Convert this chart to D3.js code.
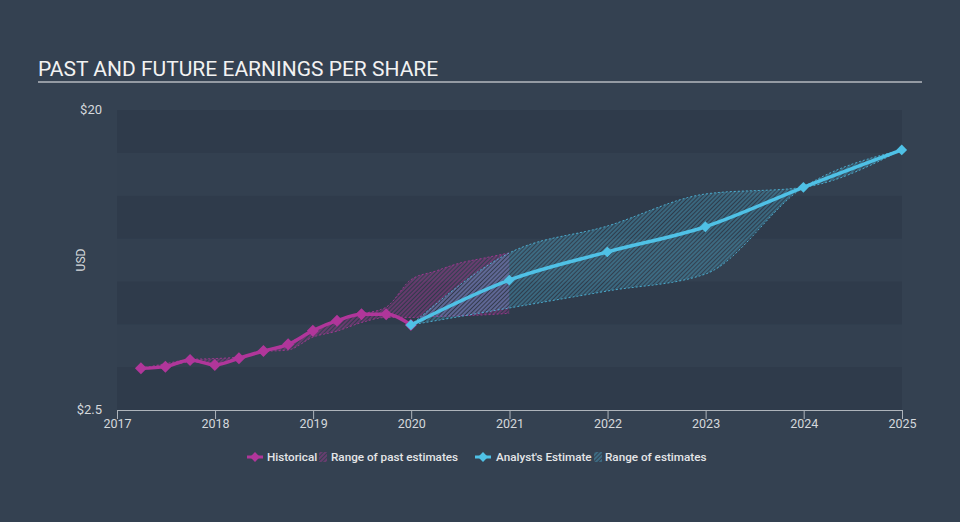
<!DOCTYPE html>
<html>
<head>
<meta charset="utf-8">
<script src="https://cdn.jsdelivr.net/npm/d3@7"></script>
<style>
  body { margin: 0; background: #344151; }
  svg { display: block; font-family: Roboto, "Noto Sans", sans-serif; }
</style>
</head>
<body>
<svg id="chart"></svg>
<script>
// historical EPS (quarterly, trailing)
const histDates = ['2017-03-31', '2017-06-30', '2017-09-30', '2017-12-31', '2018-03-31', '2018-06-30',
    '2018-09-30', '2018-12-31', '2019-03-31', '2019-06-30', '2019-09-30', '2019-12-31'];
const histEps = [4.93, 5.03, 5.42, 5.13, 5.52, 5.94, 6.33, 7.13, 7.71, 8.08, 8.08, 7.46];

// range of past estimates
const pastDates = histDates.concat(['2020-03-31', '2020-06-30', '2020-09-30', '2020-12-31']);
const pastHigh = [4.93, 5.2, 5.45, 5.5, 5.6, 5.95, 6.4, 7.13, 7.71, 8.1, 8.5, 10.1, 10.6, 11.07, 11.37, 11.66];
const pastLow = [4.93, 5.03, 5.3, 5.2, 5.5, 5.9, 6.0, 6.75, 7.1, 7.6, 7.9, 7.9, 7.95, 8.0, 8.05, 8.14];

// analyst estimates
const estDates = ['2019-12-31', '2020-12-31', '2021-12-31', '2022-12-31', '2023-12-31', '2024-12-31'];
const estEps = [7.46, 10.08, 11.72, 13.19, 15.49, 17.67];
const estHigh = [7.46, 11.66, 13.23, 15.1, 15.49, 17.67];
const estLow = [7.46, 8.45, 9.44, 10.43, 15.49, 17.67];

const yBands = [2.5, 5, 7.5, 10, 12.5, 15, 17.5, 20];
const yLabels = [20, 2.5];
const xTickYears = [2017, 2018, 2019, 2020, 2021, 2022, 2023, 2024, 2025];

const width = 960, height = 522;
const magenta = '#b0369a', cyan = '#4fc1e6';

const parse = d3.timeParse('%Y-%m-%d');

const svg = d3.select('#chart')
    .attr('width', width)
    .attr('height', height);

const x = d3.scaleTime()
    .domain([new Date(2017, 0, 1), new Date(2025, 0, 1)])
    .range([117, 902]);
const y = d3.scaleLinear()
    .domain([2.5, 20])
    .range([410, 110]);

// hatch patterns
const defs = svg.append('defs');
function hatch(id, color, op) {
    const p = defs.append('pattern')
        .attr('id', id)
        .attr('patternUnits', 'userSpaceOnUse')
        .attr('width', 3)
        .attr('height', 3)
        .attr('patternTransform', 'rotate(45)');
    p.append('line')
        .attr('x1', 1).attr('y1', 0)
        .attr('x2', 1).attr('y2', 3)
        .attr('stroke', color)
        .attr('stroke-width', 1.1)
        .attr('opacity', op);
}
hatch('hatchPast', magenta, 0.75);
hatch('hatchEst', cyan, 0.6);

// title
svg.append('text')
    .attr('x', 38)
    .attr('y', 76)
    .attr('fill', '#f2f2f2')
    .style('font-size', '21px')
    .text('PAST AND FUTURE EARNINGS PER SHARE');
svg.append('line')
    .attr('x1', 38).attr('x2', 922)
    .attr('y1', 82).attr('y2', 82)
    .attr('stroke', '#b4b9bf')
    .attr('stroke-width', 1.5);

// background bands
const bandPairs = d3.pairs(yBands);
svg.append('g')
    .selectAll('rect')
    .data(bandPairs)
    .join('rect')
    .attr('x', x.range()[0])
    .attr('width', x.range()[1] - x.range()[0])
    .attr('y', d => y(d[1]))
    .attr('height', d => y(d[0]) - y(d[1]))
    .attr('fill', (d, i) => i % 2 === 0 ? '#2f3b4b' : '#334050');

// y labels
svg.append('g')
    .selectAll('text')
    .data(yLabels)
    .join('text')
    .attr('x', 102)
    .attr('y', d => y(d) + 4)
    .attr('text-anchor', 'end')
    .attr('fill', '#d4d8dc')
    .style('font-size', '13px')
    .text(d => '$' + d);

svg.append('text')
    .attr('transform', 'translate(85,260) rotate(-90)')
    .attr('text-anchor', 'middle')
    .attr('fill', '#d4d8dc')
    .style('font-size', '12px')
    .text('USD');

// x axis
const xAxis = d3.axisBottom(x)
    .tickValues(xTickYears.map(yr => new Date(yr, 0, 1)))
    .tickFormat(d3.timeFormat('%Y'))
    .tickSize(9)
    .tickSizeOuter(0);
const gx = svg.append('g')
    .attr('transform', 'translate(0,410)')
    .call(xAxis);
gx.select('.domain').attr('stroke', '#aeb4bb');
gx.selectAll('.tick line').attr('stroke', '#aeb4bb');
gx.selectAll('.tick text')
    .attr('fill', '#d4d8dc')
    .attr('dy', '0.5em')
    .style('font-size', '12.5px')
    .style('font-family', 'Roboto, sans-serif');

// ranges
const area = d3.area()
    .x(d => x(d.date))
    .y0(d => y(d.low))
    .y1(d => y(d.high))
    .curve(d3.curveMonotoneX);
const edge = d3.line()
    .x(d => x(d.date))
    .y(d => y(d.v))
    .curve(d3.curveMonotoneX);

function drawRange(dates, lows, highs, pat, color) {
    const rows = dates.map((d, i) => ({ date: parse(d), low: lows[i], high: highs[i] }));
    const g = svg.append('g');
    g.append('path')
        .datum(rows)
        .attr('d', area)
        .attr('fill', `url(#${pat})`);
    ['low', 'high'].forEach(k => {
        g.append('path')
            .datum(rows.map(r => ({ date: r.date, v: r[k] })))
            .attr('d', edge)
            .attr('fill', 'none')
            .attr('stroke', color)
            .attr('stroke-width', 1)
            .attr('stroke-dasharray', '2,2')
            .attr('opacity', 0.8);
    });
}
drawRange(pastDates, pastLow, pastHigh, 'hatchPast', magenta);
drawRange(estDates, estLow, estHigh, 'hatchEst', cyan);

// lines
const diamond = d3.symbol().type(d3.symbolSquare);
function drawSeries(dates, vals, color, size) {
    const rows = dates.map((d, i) => ({ date: parse(d), v: vals[i] }));
    const g = svg.append('g');
    g.append('path')
        .datum(rows)
        .attr('d', edge)
        .attr('fill', 'none')
        .attr('stroke', color)
        .attr('stroke-width', 3.5);
    g.selectAll('path.pt')
        .data(rows)
        .join('path')
        .attr('class', 'pt')
        .attr('transform', d => `translate(${x(d.date)},${y(d.v)}) rotate(45)`)
        .attr('d', diamond.size(size))
        .attr('fill', color);
}
drawSeries(histDates, histEps, magenta, 72);
drawSeries(estDates, estEps, cyan, 58);

// legend
const legend = svg.append('g').style('font-size', '11.7px');
const legendItems = [
    { type: 'line', x: 247, color: magenta },
    { type: 'text', x: 267, label: 'Historical' },
    { type: 'hatch', x: 319, pat: 'hatchPast' },
    { type: 'text', x: 331, label: 'Range of past estimates' },
    { type: 'line', x: 475, color: cyan },
    { type: 'text', x: 496, label: "Analyst's Estimate" },
    { type: 'hatch', x: 594, pat: 'hatchEst' },
    { type: 'text', x: 605, label: 'Range of estimates' }
];
legendItems.forEach(it => {
    if (it.type === 'line') {
        legend.append('line')
            .attr('x1', it.x).attr('x2', it.x + 16)
            .attr('y1', 457).attr('y2', 457)
            .attr('stroke', it.color)
            .attr('stroke-width', 3);
        legend.append('path')
            .attr('transform', `translate(${it.x + 8},457) rotate(45)`)
            .attr('d', diamond.size(48))
            .attr('fill', it.color);
    } else if (it.type === 'hatch') {
        legend.append('rect')
            .attr('x', it.x).attr('y', 452)
            .attr('width', 8).attr('height', 10)
            .attr('fill', `url(#${it.pat})`);
    } else {
        legend.append('text')
            .attr('x', it.x)
            .attr('y', 461)
            .attr('fill', '#e4e6e8')
            .style('font-weight', 500)
            .text(it.label);
    }
});
</script>
</body>
</html>
